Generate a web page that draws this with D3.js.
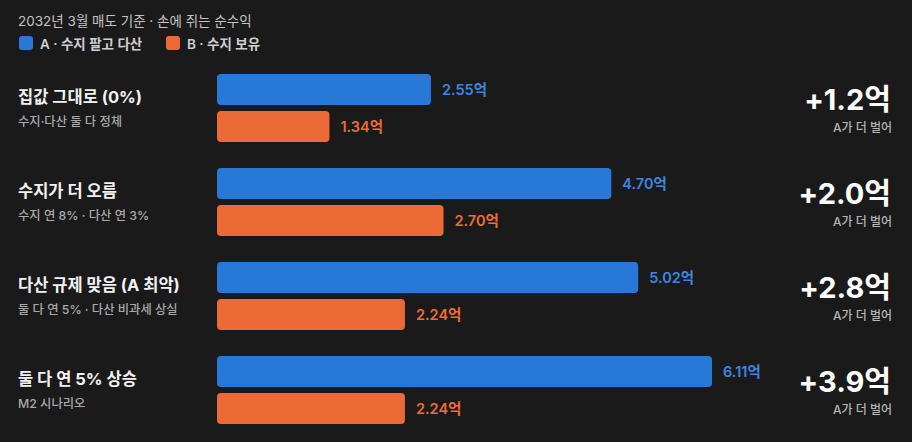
<!DOCTYPE html>
<html>
<head>
<meta charset="utf-8">
<script src="https://cdn.jsdelivr.net/npm/d3@7"></script>
<style>
    html, body { margin: 0; padding: 0; background: #1a1a1a; }
    svg { display: block; font-family: Inter, "Noto Sans CJK KR", sans-serif; }
</style>
</head>
<body>
<svg width="912" height="442"></svg>
<script>
    // data
    var scenarios = ["집값 그대로 (0%)", "수지가 더 오름", "다산 규제 맞음 (A 최악)", "둘 다 연 5% 상승"];
    var notes = ["수지·다산 둘 다 정체", "수지 연 8% · 다산 연 3%", "둘 다 연 5% · 다산 비과세 상실", "M2 시나리오"];
    var sellA = [2.55, 4.70, 5.02, 6.11];
    var keepB = [1.34, 2.70, 2.24, 2.24];
    var diffs = ["+1.2억", "+2.0억", "+2.8억", "+3.9억"];
    var seriesNames = ["A · 수지 팔고 다산", "B · 수지 보유"];

    var blue = "#2878d8", orange = "#ec6a36";

    var svg = d3.select("svg");

    // header
    svg.append("text")
        .attr("x", 18).attr("y", 26)
        .attr("fill", "#c4c4c4")
        .style("font-size", "13.5px")
        .text("2032년 3월 매도 기준 · 손에 쥐는 순수익");

    var legend = svg.append("g").attr("class", "legend");
    var legX = [19, 166];
    seriesNames.forEach(function(name, i) {
        var lg = legend.append("g").attr("transform", "translate(" + legX[i] + ",36)");
        lg.append("rect").attr("width", 14).attr("height", 14).attr("rx", 3)
            .attr("fill", i === 0 ? blue : orange);
        lg.append("text").attr("x", 21).attr("y", 12.5)
            .attr("fill", "#cfcfcf")
            .style("font-size", "13.5px").style("font-weight", "600")
            .text(name);
    });

    // scales
    var y = d3.scaleBand()
        .domain(scenarios)
        .range([74, 450])
        .paddingInner(0)
        .paddingOuter(0);   // step 94

    var x = d3.scaleLinear()
        .domain([0, 5.9])
        .range([217, 712])
        .clamp(true);

    var barH = 31, barGap = 6;

    var rows = svg.selectAll(".row")
        .data(scenarios)
        .enter().append("g")
        .attr("class", "row")
        .attr("transform", function(d) { return "translate(0," + y(d) + ")"; });

    rows.append("text")
        .attr("x", 18).attr("y", 29)
        .attr("fill", "#f2f2f2")
        .style("font-size", "16.5px").style("font-weight", "700")
        .text(function(d) { return d; });

    rows.append("text")
        .attr("x", 18).attr("y", 51.5)
        .attr("fill", "#a9a9a9")
        .style("font-size", "12.3px").style("font-weight", "500")
        .text(function(d, i) { return notes[i]; });

    // A bars
    rows.append("rect")
        .attr("x", x(0)).attr("y", 0)
        .attr("width", function(d, i) { return x(sellA[i]) - x(0); })
        .attr("height", barH).attr("rx", 4)
        .attr("fill", blue);
    rows.append("text")
        .attr("x", function(d, i) { return x(sellA[i]) + 11; })
        .attr("y", barH / 2).attr("dy", "0.36em")
        .attr("fill", "#3a87e2")
        .style("font-size", "14.5px").style("font-weight", "600")
        .text(function(d, i) { return sellA[i].toFixed(2) + "억"; });

    // B bars
    rows.append("rect")
        .attr("x", x(0)).attr("y", barH + barGap)
        .attr("width", function(d, i) { return x(keepB[i]) - x(0); })
        .attr("height", barH).attr("rx", 4)
        .attr("fill", orange);
    rows.append("text")
        .attr("x", function(d, i) { return x(keepB[i]) + 11; })
        .attr("y", barH + barGap + barH / 2).attr("dy", "0.36em")
        .attr("fill", "#f06c34")
        .style("font-size", "14.5px").style("font-weight", "600")
        .text(function(d, i) { return keepB[i].toFixed(2) + "억"; });

    // difference on right
    rows.append("text")
        .attr("x", 891).attr("y", 36)
        .attr("text-anchor", "end")
        .attr("fill", "#ffffff")
        .style("font-size", "29px").style("font-weight", "700")
        .text(function(d, i) { return diffs[i]; });
    rows.append("text")
        .attr("x", 892).attr("y", 58)
        .attr("text-anchor", "end")
        .attr("fill", "#b5b5b5")
        .style("font-size", "12px").style("font-weight", "500")
        .text("A가 더 벌어");
</script>
</body>
</html>
